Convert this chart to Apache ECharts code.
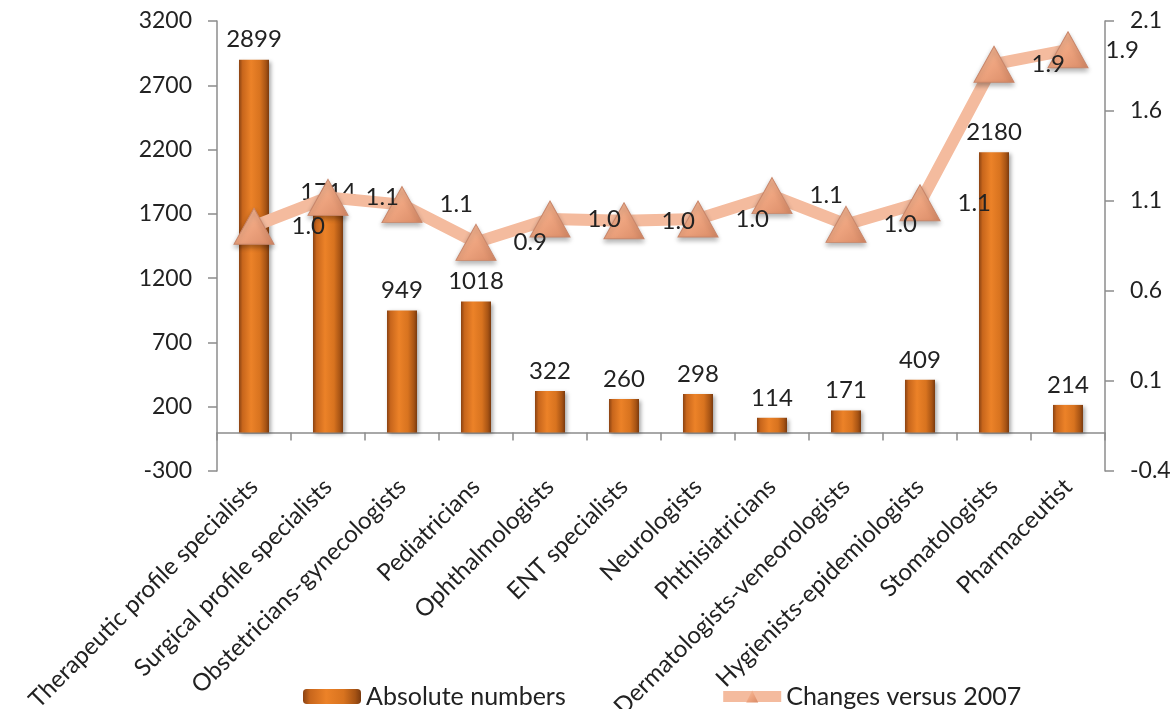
<!DOCTYPE html>
<html>
<head>
<meta charset="utf-8">
<script src="https://cdn.jsdelivr.net/npm/echarts@6/dist/echarts.min.js"></script>
<style>
  html, body { margin: 0; padding: 0; background: #fff; }
  #chart { width: 1175px; height: 709px; }
</style>
</head>
<body>
<div id="chart"></div>
<script>
// categories and values
const categories = [
  "Therapeutic profile specialists",
  "Surgical profile specialists",
  "Obstetricians-gynecologists",
  "Pediatricians",
  "Ophthalmologists",
  "ENT specialists",
  "Neurologists",
  "Phthisiatricians",
  "Dermatologists-veneorologists",
  "Hygienists-epidemiologists",
  "Stomatologists",
  "Pharmaceutist",
];
const absoluteNumbers = [2899, 1714, 949, 1018, 322, 260, 298, 114, 171, 409, 2180, 214];
const changesVs2007 = [0.96, 1.12, 1.08, 0.87, 1.0, 0.99, 1.0, 1.13, 0.97, 1.09, 1.86, 1.94];

const FONT = "Lato";
const TEXT = "#222";
const AXIS = "#8c8c8c";

const chart = echarts.init(document.getElementById("chart"));

const barColor = new echarts.graphic.LinearGradient(0, 0, 1, 0, [
  { offset: 0, color: "#8a4212" },
  { offset: 0.12, color: "#c8661c" },
  { offset: 0.4, color: "#ec8228" },
  { offset: 0.7, color: "#d8731f" },
  { offset: 0.9, color: "#a65314" },
  { offset: 1, color: "#7a3a0e" },
]);

const options = {
  animation: false,
  textStyle: { fontFamily: FONT },
  grid: { left: 217, right: 70, top: 21, bottom: 238, outerBoundsMode: "none", containLabel: false },
  legend: {
    left: 298,
    top: 679,
    itemGap: 152,
    itemWidth: 58,
    itemHeight: 15,
    textStyle: { fontFamily: FONT, fontSize: 25, color: TEXT },
    data: [
      { name: "Absolute numbers" },
      { name: "Changes versus 2007", lineStyle: { width: 11 }, itemStyle: { borderWidth: 0 } },
    ],
  },
  xAxis: {
    type: "category",
    data: categories,
    axisLine: { onZero: true, lineStyle: { color: AXIS, width: 1.5 } },
    axisTick: { show: true, length: 8, inside: false, lineStyle: { color: AXIS, width: 1.5 } },
    axisLabel: {
      rotate: 45,
      interval: 0,
      margin: 12,
      fontFamily: FONT,
      fontSize: 24,
      color: TEXT,
    },
  },
  yAxis: [
    {
      type: "value",
      min: -300,
      max: 3200,
      interval: 500,
      splitLine: { show: false },
      axisLine: { show: true, lineStyle: { color: AXIS, width: 1.5 } },
      axisTick: { show: true, length: 9, lineStyle: { color: AXIS, width: 1.5 } },
      axisLabel: {
        margin: 25,
        fontFamily: FONT,
        fontSize: 23,
        color: TEXT,
        formatter: (v) => String(v),
      },
    },
    {
      type: "value",
      min: -0.4,
      max: 2.1,
      interval: 0.5,
      splitLine: { show: false },
      axisLine: { show: true, lineStyle: { color: AXIS, width: 1.5 } },
      axisTick: { show: true, length: 9, lineStyle: { color: AXIS, width: 1.5 } },
      axisLabel: {
        margin: 25,
        fontFamily: FONT,
        fontSize: 23,
        color: TEXT,
        formatter: (v) => v.toFixed(1),
      },
    },
  ],
  series: [
    {
      name: "Absolute numbers",
      type: "bar",
      yAxisIndex: 0,
      barWidth: 30,
      data: absoluteNumbers,
      itemStyle: {
        color: barColor,
        shadowColor: "rgba(0,0,0,0.35)",
        shadowBlur: 4,
        shadowOffsetX: 2,
        shadowOffsetY: 2,
      },
      label: {
        show: true,
        position: "top",
        distance: 8,
        fontFamily: FONT,
        fontSize: 24,
        color: TEXT,
      },
      z: 2,
    },
    {
      name: "Changes versus 2007",
      type: "line",
      yAxisIndex: 1,
      data: changesVs2007,
      lineStyle: { color: "#f4bb9e", width: 12 },
      symbol: "triangle",
      symbolSize: [40, 36],
      itemStyle: {
        color: new echarts.graphic.LinearGradient(0, 0, 1, 1, [
          { offset: 0, color: "#f6c2a2" },
          { offset: 0.5, color: "#eea47f" },
          { offset: 1, color: "#d88a66" },
        ]),
        borderColor: "#c9866a",
        borderWidth: 1,
        shadowColor: "rgba(0,0,0,0.3)",
        shadowBlur: 5,
        shadowOffsetY: 3,
      },
      label: {
        show: true,
        position: "right",
        distance: 17,
        fontFamily: FONT,
        fontSize: 24,
        color: TEXT,
        formatter: (p) => p.value.toFixed(1),
      },
      z: 3,
    },
  ],
};

chart.setOption(options);

window.addEventListener("resize", () => {
  chart.resize();
});
</script>
</body>
</html>
